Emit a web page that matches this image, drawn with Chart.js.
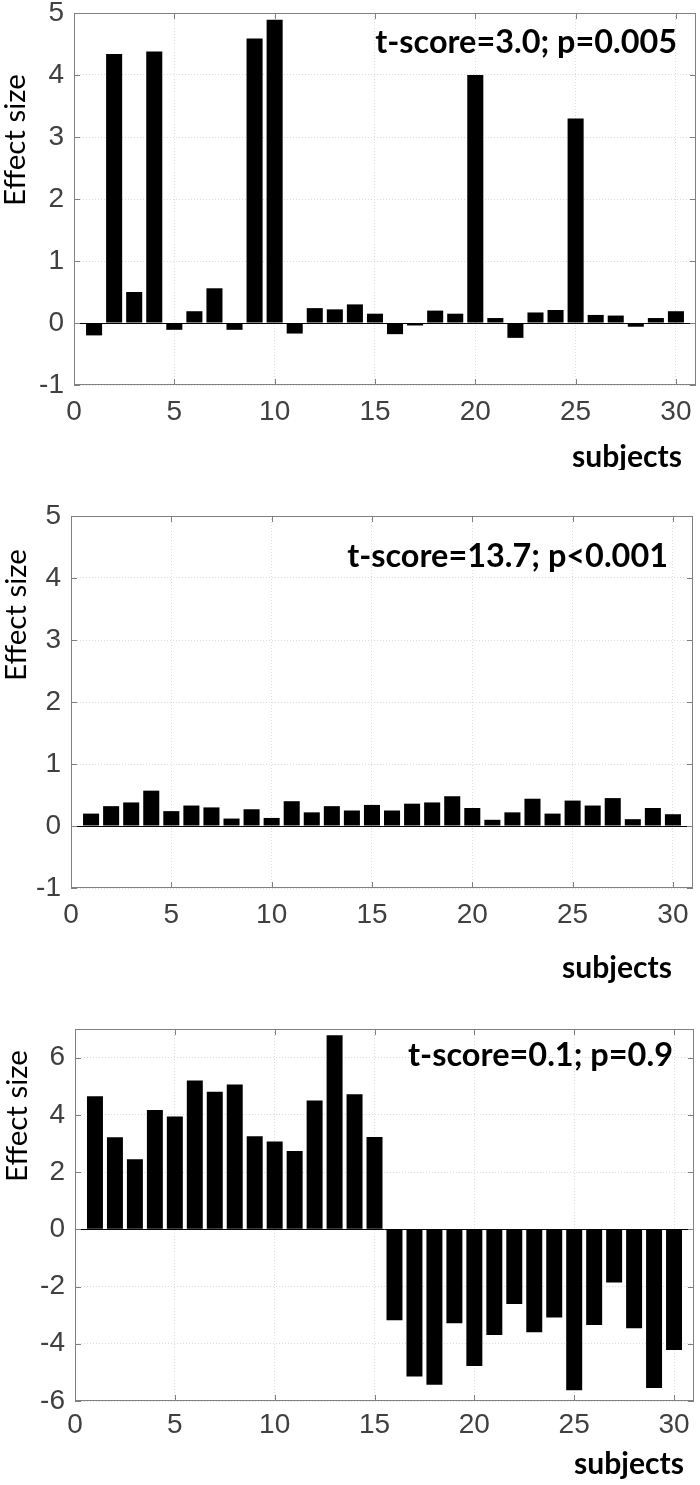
<!DOCTYPE html>
<html>
<head>
<meta charset="utf-8">
<script src="https://cdn.jsdelivr.net/npm/chart.js@4.4.1/dist/chart.umd.min.js"></script>
<style>
html, body { margin: 0; padding: 0; background: #fff; }
#wrap { position: relative; width: 700px; height: 1485px; }
canvas { position: absolute; left: 0; }
</style>
</head>
<body>
<div id="wrap">
    <canvas id="c1" width="700" height="470" style="top:0px"></canvas>
    <canvas id="c2" width="700" height="520" style="top:470px"></canvas>
    <canvas id="c3" width="700" height="495" style="top:990px"></canvas>
</div>
<script>
// data
const subjects = [1,2,3,4,5,6,7,8,9,10,11,12,13,14,15,16,17,18,19,20,21,22,23,24,25,26,27,28,29,30];
const effectA = [-0.20, 4.34, 0.50, 4.38, -0.11, 0.19, 0.56, -0.11, 4.59, 4.89, -0.17, 0.24, 0.22, 0.30, 0.15,
                 -0.18, -0.04, 0.20, 0.15, 4.00, 0.08, -0.24, 0.17, 0.21, 3.30, 0.13, 0.12, -0.06, 0.08, 0.19];
const effectB = [0.20, 0.32, 0.38, 0.57, 0.24, 0.33, 0.30, 0.12, 0.27, 0.13, 0.40, 0.22, 0.32, 0.25, 0.34,
                 0.25, 0.36, 0.38, 0.48, 0.29, 0.10, 0.22, 0.44, 0.20, 0.41, 0.33, 0.45, 0.11, 0.29, 0.19];
const effectC = [4.65, 3.22, 2.45, 4.17, 3.94, 5.20, 4.81, 5.06, 3.25, 3.07, 2.74, 4.50, 6.78, 4.72, 3.23,
                 -3.18, -5.14, -5.43, -3.28, -4.78, -3.69, -2.61, -3.60, -3.08, -5.62, -3.34, -1.86, -3.46, -5.55, -4.22];
const xTicks = [0, 5, 10, 15, 20, 25, 30];
const yTicksAB = [-1, 0, 1, 2, 3, 4, 5];
const yTicksC = [-6, -4, -2, 0, 2, 4, 6];
const statLabels = ["t-score=3.0; p=0.005", "t-score=13.7; p<0.001", "t-score=0.1; p=0.9"];
const xTitle = "subjects";
const yTitle = "Effect size";

// layout in page pixels
const panels = [
    { id: "c1", top: 0,   height: 470, values: effectA, yMin: -1, yMax: 5, yTicks: yTicksAB,
      area: { l: 74, t: 13, r: 696, b: 385 }, xPad: 10,
      stat: { x: 677, y: 53 }, ylab: { x: 25, y: 140 }, xlab: { x: 682, y: 467 } },
    { id: "c2", top: 470, height: 520, values: effectB, yMin: -1, yMax: 5, yTicks: yTicksAB,
      area: { l: 71, t: 516, r: 693, b: 888 }, xPad: 10,
      stat: { x: 668, y: 567 }, ylab: { x: 26, y: 615 }, xlab: { x: 672, y: 978 } },
    { id: "c3", top: 990, height: 495, values: effectC, yMin: -6, yMax: 7, yTicks: yTicksC,
      area: { l: 75, t: 1029, r: 694, b: 1401 }, xPad: 7,
      stat: { x: 673, y: 1066 }, ylab: { x: 27, y: 1116 }, xlab: { x: 684, y: 1474 } }
];

const tickFont = { family: "'Liberation Sans', Arial, sans-serif", size: 28 };
const labelFamily = "Lato, 'Open Sans', sans-serif";

// font size so that text gets the measured width
function fitSize(ctx, text, weight, width) {
    ctx.font = `${weight} 100px ${labelFamily}`;
    return 100 * width / ctx.measureText(text).width;
}

const boxPlugin = {
    id: "matlabBox",
    afterDatasetsDraw(chart) {
        const { ctx, chartArea: a, scales: { x, y } } = chart;
        const p = chart.options.plugins.matlabBox;
        ctx.save();
        ctx.lineWidth = 1;
        // zero baseline
        const y0 = Math.round(y.getPixelForValue(0)) + 0.5;
        ctx.strokeStyle = "#000";
        ctx.beginPath();
        ctx.moveTo(a.left, y0);
        ctx.lineTo(a.right, y0);
        ctx.stroke();
        // frame + inward ticks
        ctx.strokeStyle = "#808080";
        ctx.strokeRect(a.left + 0.5, a.top + 0.5, a.right - a.left - 1, a.bottom - a.top - 1);
        ctx.beginPath();
        xTicks.forEach(v => {
            const px = Math.round(x.getPixelForValue(v)) + 0.5;
            ctx.moveTo(px, a.bottom); ctx.lineTo(px, a.bottom - 6);
            ctx.moveTo(px, a.top); ctx.lineTo(px, a.top + 6);
        });
        p.yTicks.forEach(v => {
            const py = Math.round(y.getPixelForValue(v)) + 0.5;
            ctx.moveTo(a.left, py); ctx.lineTo(a.left + 6, py);
            ctx.moveTo(a.right, py); ctx.lineTo(a.right - 6, py);
        });
        ctx.stroke();
        ctx.restore();
    },
    afterDraw(chart) {
        const { ctx } = chart;
        const p = chart.options.plugins.matlabBox;
        ctx.save();
        ctx.fillStyle = "#000";
        ctx.textBaseline = "alphabetic";

        // stats
        let size = fitSize(ctx, p.stat.text, "bold", p.stat.w);
        ctx.font = `bold ${size}px ${labelFamily}`;
        ctx.textAlign = "right";
        ctx.fillText(p.stat.text, p.stat.x, p.stat.y);

        // x title
        size = fitSize(ctx, xTitle, "bold", 110);
        ctx.font = `bold ${size}px ${labelFamily}`;
        ctx.fillText(xTitle, p.xlab.x, p.xlab.y);

        // y title
        size = fitSize(ctx, yTitle, "normal", 132);
        ctx.font = `normal ${size}px ${labelFamily}`;
        ctx.translate(p.ylab.x, p.ylab.y);
        ctx.rotate(-Math.PI / 2);
        ctx.textAlign = "center";
        ctx.fillText(yTitle, 0, 0);
        ctx.restore();
    }
};

const statWidths = [302, 321, 265];

panels.forEach((pn, i) => {
    const a = pn.area;
    const localTop = a.t - pn.top;
    const localBottom = a.b - pn.top;
    new Chart(document.getElementById(pn.id), {
        type: "bar",
        data: {
            labels: subjects,
            datasets: [{
                data: pn.values,
                backgroundColor: "#000",
                borderWidth: 0,
                barPercentage: 0.8,
                categoryPercentage: 1
            }]
        },
        options: {
            responsive: false,
            animation: false,
            devicePixelRatio: 1,
            layout: { padding: { left: 0, top: localTop, right: 700 - a.r, bottom: 0 } },
            scales: {
                x: {
                    type: "linear",
                    min: 0,
                    max: 31,
                    offset: false,
                    afterBuildTicks: s => { s.ticks = xTicks.map(v => ({ value: v })); },
                    afterFit: s => { s.height = pn.height - localBottom; s.paddingLeft = 0; s.paddingRight = 0; },
                    ticks: { font: tickFont, color: "#404040", padding: pn.xPad, maxRotation: 0, autoSkip: false },
                    grid: { color: "#dcdcdc", lineWidth: 1, drawTicks: false, offset: false },
                    border: { display: false, dash: [1, 2] }
                },
                y: {
                    min: pn.yMin,
                    max: pn.yMax,
                    afterBuildTicks: s => { s.ticks = pn.yTicks.map(v => ({ value: v })); },
                    afterFit: s => { s.width = a.l; s.paddingTop = 0; s.paddingBottom = 0; },
                    ticks: { font: tickFont, color: "#404040", padding: 10 },
                    grid: { color: "#dcdcdc", lineWidth: 1, drawTicks: false },
                    border: { display: false, dash: [1, 2] }
                }
            },
            plugins: {
                legend: { display: false },
                tooltip: { enabled: false },
                matlabBox: {
                    yTicks: pn.yTicks,
                    stat: { text: statLabels[i], x: pn.stat.x, y: pn.stat.y - pn.top, w: statWidths[i] },
                    xlab: { x: pn.xlab.x, y: pn.xlab.y - pn.top },
                    ylab: { x: pn.ylab.x, y: pn.ylab.y - pn.top }
                }
            }
        },
        plugins: [boxPlugin]
    });
});
</script>
</body>
</html>
